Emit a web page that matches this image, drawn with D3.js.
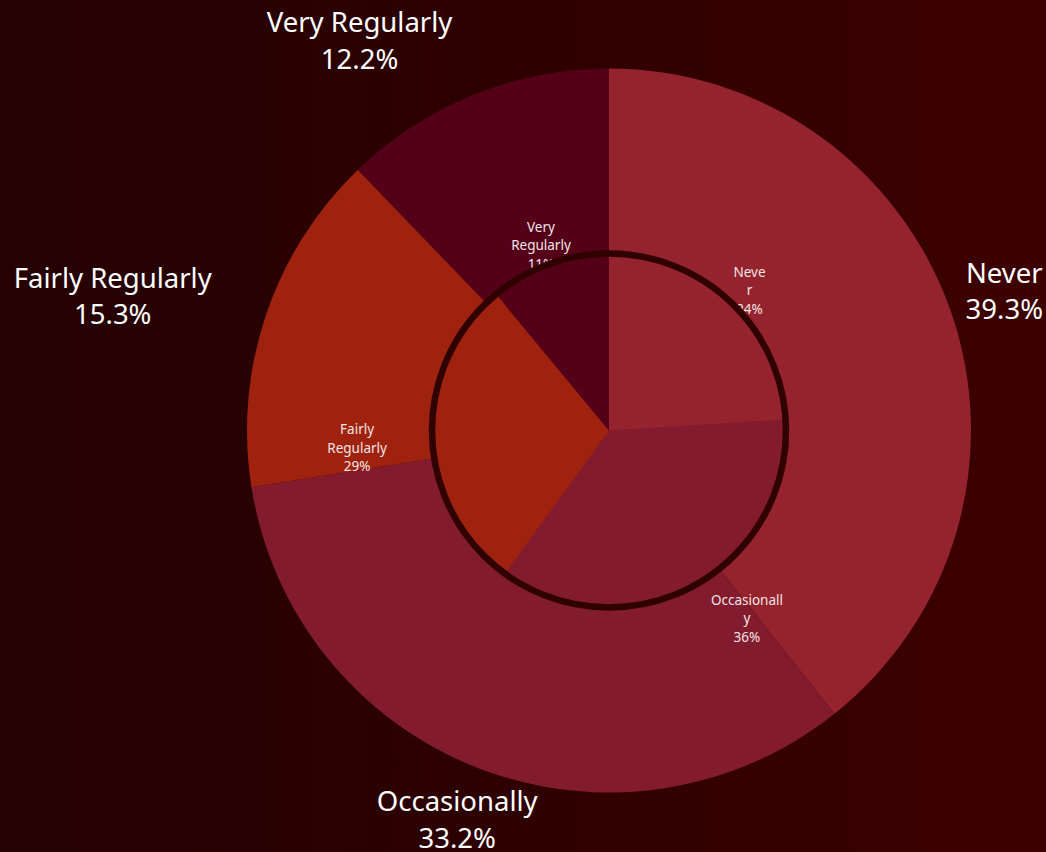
<!DOCTYPE html>
<html>
<head>
<meta charset="utf-8">
<script src="https://cdn.jsdelivr.net/npm/d3@7/dist/d3.min.js"></script>
<style>
  html, body { margin: 0; padding: 0; background: #2c0000; }
  svg { display: block; }
</style>
</head>
<body>
<svg id="chart" width="1046" height="852"></svg>
<script>
// Frequency categories, outer ring (overall share) and inner pie (sub-group share)
const categories = ["Never", "Occasionally", "Fairly Regularly", "Very Regularly"];
const outerValues = [39.3, 33.2, 15.3, 12.2];
const innerValues = [24, 36, 29, 11];
const sliceColors = ["#94232d", "#831b2f", "#9f220e", "#540019"];

// Inner labels wrap after this many characters per line
const innerWrapChars = [4, 11, 9, 9];

const width = 1046, height = 852;
const cx = 609, cy = 430.5;
const outerR = 362, innerR = 177;
const outerLabelR = 419, innerLabelR = 195;
const fontFamily = "'Noto Sans', 'Open Sans', sans-serif";

const svg = d3.select("#chart");

// background: dark red, slightly brighter toward the right
const defs = svg.append("defs");
const bg = defs.append("linearGradient").attr("id", "bg")
  .attr("x1", "0%").attr("x2", "100%").attr("y1", "0%").attr("y2", "0%");
bg.append("stop").attr("offset", "0%").attr("stop-color", "#250102");
bg.append("stop").attr("offset", "50%").attr("stop-color", "#2e0000");
bg.append("stop").attr("offset", "100%").attr("stop-color", "#3d0000");
svg.append("rect").attr("width", width).attr("height", height).attr("fill", "url(#bg)");

const color = d3.scaleOrdinal().domain(categories).range(sliceColors);
const pie = d3.pie().sort(null).value(d => d.value);

const outerData = pie(categories.map((c, i) => ({ cat: c, value: outerValues[i], idx: i })));
const innerData = pie(categories.map((c, i) => ({ cat: c, value: innerValues[i], idx: i })));

const g = svg.append("g").attr("transform", `translate(${cx},${cy})`);

// outer pie
const outerArc = d3.arc().innerRadius(0).outerRadius(outerR);
g.selectAll("path.outer").data(outerData).join("path")
  .attr("class", "outer")
  .attr("d", outerArc)
  .attr("fill", d => color(d.data.cat));

// inner labels (drawn beneath the inner pie, which partly covers them)
const lineH = 18.5;
function wrapChars(text, limit) {
  const lines = [];
  let cur = "";
  text.split(" ").forEach(word => {
    const cand = cur ? cur + " " + word : word;
    if (cand.length <= limit) { cur = cand; return; }
    if (cur) lines.push(cur);
    let w = word;
    while (w.length > limit) { lines.push(w.slice(0, limit)); w = w.slice(limit); }
    cur = w;
  });
  if (cur) lines.push(cur);
  return lines;
}
// small offsets that keep the inner labels clear of the ring
const innerNudge = {
  "Never": [7, 2],
  "Occasionally": [44, 17],
  "Fairly Regularly": [-57, 11],
  "Very Regularly": [-2, -2]
};
const innerLabelArc = d3.arc().innerRadius(innerLabelR).outerRadius(innerLabelR);
innerData.forEach(d => {
  const [x0, y0] = innerLabelArc.centroid(d);
  const nd = innerNudge[d.data.cat] || [0, 0];
  const x = x0 + nd[0], y = y0 + nd[1];
  const lines = wrapChars(d.data.cat, innerWrapChars[d.data.idx]);
  lines.push(d.data.value + "%");
  const t = g.append("text")
    .attr("text-anchor", "middle")
    .attr("font-family", fontFamily)
    .attr("font-size", 13.5)
    .attr("fill", "#f2e4e4");
  const top = y - (lines.length - 1) * lineH / 2;
  lines.forEach((ln, i) => {
    t.append("tspan").attr("x", x).attr("y", top + i * lineH)
      .attr("dominant-baseline", "central").text(ln);
  });
});

// inner pie
const innerArc = d3.arc().innerRadius(0).outerRadius(innerR);
g.selectAll("path.inner").data(innerData).join("path")
  .attr("class", "inner")
  .attr("d", innerArc)
  .attr("fill", d => color(d.data.cat));
g.append("circle").attr("r", innerR)
  .attr("fill", "none").attr("stroke", "#300000").attr("stroke-width", 6.5);

// outer labels: category name and share, placed outside the ring
const outerLabelArc = d3.arc().innerRadius(outerLabelR).outerRadius(outerLabelR);
const bigLine = 36.5;
outerData.forEach(d => {
  const [px, py] = outerLabelArc.centroid(d);
  const a = (d.startAngle + d.endAngle) / 2;
  const deg = a * 180 / Math.PI;
  const t = svg.append("text")
    .attr("text-anchor", "middle")
    .attr("font-family", fontFamily)
    .attr("font-size", 27.5)
    .attr("fill", "#ffffff");
  const lines = [d.data.cat, d.data.value.toFixed(1) + "%"];
  const spans = lines.map((ln, i) => t.append("tspan")
    .attr("dominant-baseline", "central")
    .attr("y", cy + py - 2 + (i - 0.5) * bigLine).text(ln));
  const w = d3.max(spans, s => s.node().getComputedTextLength());
  let bx;
  if (deg > 135 && deg < 225) bx = cx + px;
  else if (Math.sin(a) < 0) bx = cx + px - w / 2;
  else bx = cx + px + w / 2;
  // keep the block inside the drawing area
  bx = Math.max(w / 2 + 3, Math.min(width - w / 2 - 3, bx));
  spans.forEach(s => s.attr("x", bx));
});
</script>
</body>
</html>
